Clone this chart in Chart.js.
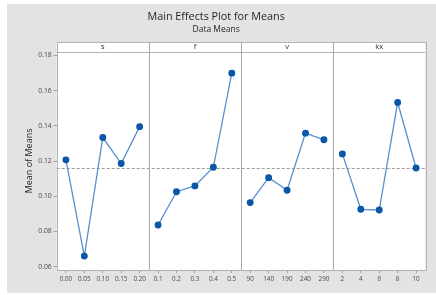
<!DOCTYPE html>
<html>
<head>
<meta charset="utf-8">
<script src="https://cdn.jsdelivr.net/npm/chart.js@4/dist/chart.umd.min.js"></script>
<style>
  html, body { margin: 0; padding: 0; background: #ffffff; width: 436px; height: 295px; overflow: hidden; }
  #wrap { position: absolute; left: 7px; top: 4px; width: 429px; height: 289px; background: #e3e3e3; }
  canvas { display: block; }
</style>
</head>
<body>
<div id="wrap"><canvas id="c" width="429" height="289"></canvas></div>
<script>
// ---- data ----
const factors = ['s', 'f', 'v', 'kx'];
const sLevels = ['0.00', '0.05', '0.10', '0.15', '0.20'];
const sMeans = [0.1207, 0.0660, 0.1334, 0.1186, 0.1396];
const fLevels = ['0.1', '0.2', '0.3', '0.4', '0.5'];
const fMeans = [0.0837, 0.1026, 0.1059, 0.1165, 0.1700];
const vLevels = ['90', '140', '190', '240', '290'];
const vMeans = [0.0964, 0.1106, 0.1034, 0.1359, 0.1321];
const kxLevels = ['2', '4', '6', '8', '10'];
const kxMeans = [0.1241, 0.0926, 0.0922, 0.1533, 0.1161];
const grandMean = 0.1161;
const yTicks = [0.06, 0.08, 0.10, 0.12, 0.14, 0.16, 0.18];
const yMin = 0.0581, yMax = 0.1821;

const levelGroups = [sLevels, fLevels, vLevels, kxLevels];
const meanGroups = [sMeans, fMeans, vMeans, kxMeans];
const allLabels = [].concat(...levelGroups);

const datasets = meanGroups.map((m, gi) => {
  const data = allLabels.map(() => null);
  let start = 0;
  for (let k = 0; k < gi; k++) start += levelGroups[k].length;
  m.forEach((v, i) => { data[start + i] = v; });
  return {
    label: factors[gi],
    data,
    borderColor: '#5590cf',
    borderWidth: 1.3,
    backgroundColor: '#0b56a8',
    pointBackgroundColor: '#0b56a8',
    pointBorderColor: '#0b56a8',
    pointRadius: 2.8,
    pointHoverRadius: 2.8,
    spanGaps: false,
    tension: 0
  };
});

const FONT = "'Open Sans', 'Noto Sans', sans-serif";

const panelPlugin = {
  id: 'panels',
  beforeDatasetsDraw(chart) {
    const { ctx, chartArea, scales } = chart;
    const y = scales.y;
    ctx.save();
    const ym = y.getPixelForValue(grandMean);
    ctx.strokeStyle = '#9a9a9a';
    ctx.lineWidth = 1;
    ctx.setLineDash([3, 2]);
    ctx.beginPath();
    ctx.moveTo(chartArea.left, Math.round(ym) + 0.5);
    ctx.lineTo(chartArea.right, Math.round(ym) + 0.5);
    ctx.stroke();
    ctx.setLineDash([]);
    ctx.restore();
  },
  afterDraw(chart) {
    const { ctx, chartArea, scales } = chart;
    const x = scales.x;
    const half = (x.getPixelForValue(1) - x.getPixelForValue(0)) / 2;
    ctx.save();
    const hTop = chartArea.top - 9.5, hBot = chartArea.top;
    ctx.fillStyle = '#ffffff';
    ctx.fillRect(chartArea.left, hTop, chartArea.right - chartArea.left, hBot - hTop);
    ctx.strokeStyle = '#b4b4b4';
    ctx.lineWidth = 1;
    ctx.strokeRect(Math.round(chartArea.left) + 0.5, Math.round(hTop) + 0.5,
      Math.round(chartArea.right - chartArea.left), Math.round(chartArea.bottom - hTop));
    ctx.beginPath();
    ctx.moveTo(chartArea.left, Math.round(hBot) + 0.5);
    ctx.lineTo(chartArea.right, Math.round(hBot) + 0.5);
    ctx.stroke();
    let idx = 0;
    ctx.font = "7.5px " + FONT;
    ctx.textAlign = 'center';
    ctx.textBaseline = 'middle';
    levelGroups.forEach((g, gi) => {
      const left = x.getPixelForValue(idx) - half;
      const right = x.getPixelForValue(idx + g.length - 1) + half;
      ctx.fillStyle = '#2a2a2a';
      ctx.fillText(factors[gi], (left + right) / 2, (hTop + hBot) / 2);
      if (gi > 0) {
        ctx.strokeStyle = '#a8a8a8';
        ctx.beginPath();
        ctx.moveTo(Math.round(left) + 0.5, hTop);
        ctx.lineTo(Math.round(left) + 0.5, chartArea.bottom);
        ctx.stroke();
      }
      idx += g.length;
    });
    ctx.restore();
  }
};

const plotBg = {
  id: 'plotBg',
  beforeDraw(chart) {
    const { ctx, chartArea } = chart;
    ctx.save();
    ctx.fillStyle = '#ffffff';
    ctx.fillRect(chartArea.left, chartArea.top, chartArea.right - chartArea.left, chartArea.bottom - chartArea.top);
    ctx.restore();
  }
};

new Chart(document.getElementById('c'), {
  type: 'line',
  data: { labels: allLabels, datasets },
  plugins: [plotBg, panelPlugin],
  options: {
    responsive: false,
    animation: false,
    layout: { padding: { left: 0, right: 10.7, top: 0, bottom: 0 } },
    plugins: {
      legend: { display: false },
      tooltip: { enabled: false },
      title: {
        display: true,
        text: 'Main Effects Plot for Means',
        color: '#262626',
        font: { family: FONT, size: 10.8, weight: 'normal', lineHeight: 1.2 },
        padding: { top: 6.7, bottom: 0 }
      },
      subtitle: {
        display: true,
        text: 'Data Means',
        color: '#262626',
        font: { family: FONT, size: 8.5, weight: 'normal', lineHeight: 1.2 },
        padding: { top: 0.5, bottom: 17.5 }
      }
    },
    scales: {
      x: {
        type: 'category',
        offset: true,
        grid: { display: true, drawOnChartArea: false, drawTicks: true, tickLength: 3, color: '#a0a0a0', offset: false },
        border: { display: false },
        ticks: {
          color: '#4a4a4a',
          font: { family: FONT, size: 6.3 },
          padding: 2,
          maxRotation: 0,
          autoSkip: false
        },
        afterFit(scale) { scale.height = 23; }
      },
      y: {
        type: 'linear',
        min: yMin,
        max: yMax,
        afterBuildTicks(scale) { scale.ticks = yTicks.map(v => ({ value: v })); },
        grid: { display: true, drawOnChartArea: false, drawTicks: true, tickLength: 3, color: '#a0a0a0' },
        border: { display: false },
        ticks: {
          color: '#4a4a4a',
          font: { family: FONT, size: 6.8 },
          padding: 2,
          callback: (v) => Number(v).toFixed(2)
        },
        title: {
          display: true,
          text: 'Mean of Means',
          color: '#262626',
          font: { family: FONT, size: 9 },
          padding: { top: 17.5, bottom: 0 }
        },
        afterFit(scale) { scale.width = 49.7; }
      }
    }
  }
});
</script>
</body>
</html>
